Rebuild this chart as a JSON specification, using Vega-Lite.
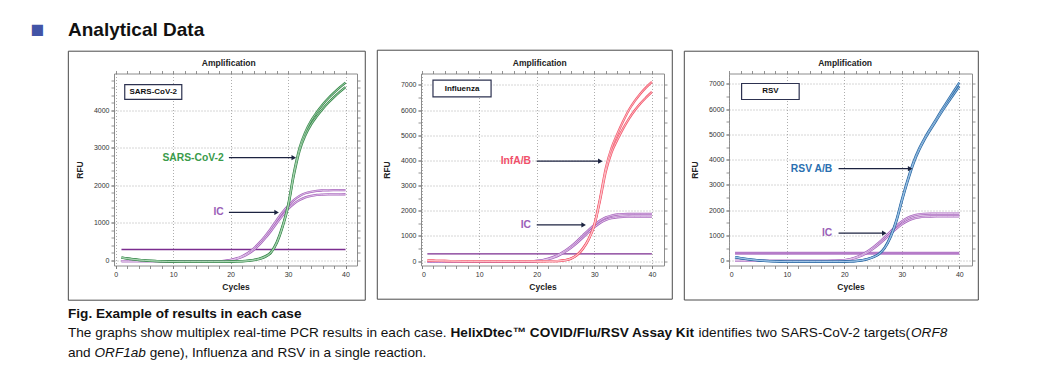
{
  "$schema": "https://vega.github.io/schema/vega-lite/v6.json",
  "background": "white",
  "padding": {"left": 30, "top": 20.5, "right": 10, "bottom": 5},
  "title": {"text": "■", "anchor": "start", "frame": "bounds", "orient": "top", "dx": -36.5, "offset": -17, "font": "DejaVu Sans", "fontSize": 14.5, "fontWeight": "normal", "color": "#4254a6"},
  "config": {
    "font": "Liberation Sans",
    "view": {"stroke": null},
    "axis": {"labelFontSize": 7, "labelColor": "#333", "tickColor": "#777", "tickSize": 3, "tickWidth": 0.8, "domain": false, "gridColor": "#999", "gridDash": [1, 2], "gridWidth": 0.8, "titleFontSize": 8.5, "titleFontWeight": "bold", "titleColor": "#222", "labelPadding": 2, "format": "d"},
    "axisX": {"titlePadding": 5},
    "axisY": {"titlePadding": 9}
  },
  "datasets": {
    "header": [
      {"pos": -46, "text": "Analytical Data"}
    ],
    "caption": [
      {"line": 1, "style": "bold", "pos": -46, "text": "Fig. Example of results in each case"},
      {"line": 2, "style": "normal", "pos": -46, "text": "The graphs show multiplex real-time PCR results in each case."},
      {"line": 2, "style": "bold", "pos": 336.5, "text": "HelixDtec™ COVID/Flu/RSV Assay Kit"},
      {"line": 2, "style": "normal", "pos": 584.5, "text": "identifies two SARS-CoV-2 targets("},
      {"line": 2, "style": "italic", "pos": 797, "text": "ORF8"},
      {"line": 3, "style": "normal", "pos": -46, "text": "and"},
      {"line": 3, "style": "italic", "pos": -19.5, "text": "ORF1ab"},
      {"line": 3, "style": "normal", "pos": 35.7, "text": "gene), Influenza and RSV in a single reaction."}
    ],
    "m1": [
      {"kind": "frame", "cycle": -8.25, "cycle2": 43.44, "rfu": 5574, "rfu2": -1057},
      {"kind": "title", "cycle": 19.68, "rfu": 5254, "text": "Amplification"},
      {"kind": "threshold", "cycle": 1, "cycle2": 40, "rfu": 293},
      {"kind": "box", "cycle": 1.57, "cycle2": 11.5, "rfu": 4293, "rfu2": 4685},
      {"kind": "boxlabel", "cycle": 6.53, "rfu": 4489, "text": "SARS-CoV-2"},
      {"kind": "annot", "role": "target", "cycle": 18.8, "rfu": 2739, "text": "SARS-CoV-2"},
      {"kind": "annot", "role": "ic", "cycle": 18.8, "rfu": 1280, "text": "IC"},
      {"kind": "arrow", "cycle": 19.7, "cycle2": 31.0, "rfu": 2739},
      {"kind": "arrow", "cycle": 19.7, "cycle2": 28.0, "rfu": 1280},
      {"kind": "head", "cycle": 31.0, "rfu": 2739},
      {"kind": "head", "cycle": 28.0, "rfu": 1280}
    ],
    "m2": [
      {"kind": "frame", "cycle": -7.69, "cycle2": 43.54, "rfu": 8375, "rfu2": -1513},
      {"kind": "title", "cycle": 20.53, "rfu": 7859, "text": "Amplification"},
      {"kind": "threshold", "cycle": 1, "cycle2": 40, "rfu": 290},
      {"kind": "box", "cycle": 1.98, "cycle2": 12.07, "rfu": 6520, "rfu2": 7186},
      {"kind": "boxlabel", "cycle": 7.03, "rfu": 6853, "text": "Influenza"},
      {"kind": "annot", "role": "target", "cycle": 19.0, "rfu": 3970, "text": "InfA/B"},
      {"kind": "annot", "role": "ic", "cycle": 19.0, "rfu": 1435, "text": "IC"},
      {"kind": "arrow", "cycle": 20.0, "cycle2": 31.05, "rfu": 3970},
      {"kind": "arrow", "cycle": 20.0, "cycle2": 28.15, "rfu": 1435},
      {"kind": "head", "cycle": 31.05, "rfu": 3970},
      {"kind": "head", "cycle": 28.15, "rfu": 1435}
    ],
    "m3": [
      {"kind": "frame", "cycle": -7.82, "cycle2": 43.3, "rfu": 8292, "rfu2": -1551},
      {"kind": "title", "cycle": 20.14, "rfu": 7817, "text": "Amplification"},
      {"kind": "threshold", "cycle": 1, "cycle2": 40, "rfu": 300},
      {"kind": "box", "cycle": 2.14, "cycle2": 12.15, "rfu": 6381, "rfu2": 7015},
      {"kind": "boxlabel", "cycle": 7.15, "rfu": 6698, "text": "RSV"},
      {"kind": "annot", "role": "target", "cycle": 17.9, "rfu": 3646, "text": "RSV A/B"},
      {"kind": "annot", "role": "ic", "cycle": 17.9, "rfu": 1094, "text": "IC"},
      {"kind": "arrow", "cycle": 19.0, "cycle2": 31.45, "rfu": 3646},
      {"kind": "arrow", "cycle": 19.0, "cycle2": 26.95, "rfu": 1094},
      {"kind": "head", "cycle": 31.45, "rfu": 3646},
      {"kind": "head", "cycle": 26.95, "rfu": 1094}
    ],
    "c1": [
      {"cycle": 1, "t1": 80, "t2": 75, "ic1": -15, "ic2": -18},
      {"cycle": 2, "t1": 55, "t2": 50, "ic1": -15, "ic2": -18},
      {"cycle": 3, "t1": 35, "t2": 30, "ic1": -15, "ic2": -18},
      {"cycle": 4, "t1": 18, "t2": 14, "ic1": -15, "ic2": -18},
      {"cycle": 5, "t1": 5, "t2": 2, "ic1": -15, "ic2": -18},
      {"cycle": 6, "t1": -5, "t2": -8, "ic1": -15, "ic2": -18},
      {"cycle": 7, "t1": -13, "t2": -16, "ic1": -15, "ic2": -18},
      {"cycle": 8, "t1": -20, "t2": -22, "ic1": -15, "ic2": -18},
      {"cycle": 9, "t1": -24, "t2": -26, "ic1": -15, "ic2": -18},
      {"cycle": 10, "t1": -27, "t2": -28, "ic1": -15, "ic2": -18},
      {"cycle": 11, "t1": -29, "t2": -29, "ic1": -15, "ic2": -18},
      {"cycle": 12, "t1": -30, "t2": -30, "ic1": -15, "ic2": -18},
      {"cycle": 13, "t1": -30, "t2": -30, "ic1": -15, "ic2": -18},
      {"cycle": 14, "t1": -30, "t2": -30, "ic1": -15, "ic2": -18},
      {"cycle": 15, "t1": -30, "t2": -30, "ic1": -15, "ic2": -18},
      {"cycle": 16, "t1": -30, "t2": -30, "ic1": -15, "ic2": -18},
      {"cycle": 17, "t1": -30, "t2": -30, "ic1": -15, "ic2": -18},
      {"cycle": 18, "t1": -30, "t2": -30, "ic1": -15, "ic2": -18},
      {"cycle": 19, "t1": -29, "t2": -29, "ic1": -8, "ic2": -12},
      {"cycle": 20, "t1": -27, "t2": -28, "ic1": 15, "ic2": 8},
      {"cycle": 21, "t1": -24, "t2": -25, "ic1": 55, "ic2": 42},
      {"cycle": 22, "t1": -18, "t2": -20, "ic1": 115, "ic2": 95},
      {"cycle": 23, "t1": -6, "t2": -10, "ic1": 200, "ic2": 170},
      {"cycle": 24, "t1": 15, "t2": 8, "ic1": 320, "ic2": 280},
      {"cycle": 25, "t1": 50, "t2": 40, "ic1": 470, "ic2": 420},
      {"cycle": 26, "t1": 110, "t2": 95, "ic1": 650, "ic2": 590},
      {"cycle": 27, "t1": 220, "t2": 200, "ic1": 850, "ic2": 780},
      {"cycle": 28, "t1": 480, "t2": 450, "ic1": 1070, "ic2": 990},
      {"cycle": 29, "t1": 900, "t2": 870, "ic1": 1280, "ic2": 1190},
      {"cycle": 30, "t1": 1470, "t2": 1430, "ic1": 1460, "ic2": 1370},
      {"cycle": 31, "t1": 2330, "t2": 2260, "ic1": 1610, "ic2": 1510},
      {"cycle": 32, "t1": 3000, "t2": 2920, "ic1": 1720, "ic2": 1610},
      {"cycle": 33, "t1": 3420, "t2": 3330, "ic1": 1790, "ic2": 1680},
      {"cycle": 34, "t1": 3720, "t2": 3620, "ic1": 1830, "ic2": 1720},
      {"cycle": 35, "t1": 3950, "t2": 3840, "ic1": 1855, "ic2": 1745},
      {"cycle": 36, "t1": 4150, "t2": 4030, "ic1": 1865, "ic2": 1755},
      {"cycle": 37, "t1": 4320, "t2": 4200, "ic1": 1870, "ic2": 1760},
      {"cycle": 38, "t1": 4470, "t2": 4350, "ic1": 1872, "ic2": 1762},
      {"cycle": 39, "t1": 4610, "t2": 4490, "ic1": 1873, "ic2": 1763},
      {"cycle": 40, "t1": 4740, "t2": 4620, "ic1": 1874, "ic2": 1764}
    ],
    "c2": [
      {"cycle": 1, "t1": 20, "t2": 18, "ic1": -10, "ic2": -12},
      {"cycle": 2, "t1": 15, "t2": 13, "ic1": -10, "ic2": -12},
      {"cycle": 3, "t1": 10, "t2": 8, "ic1": -10, "ic2": -12},
      {"cycle": 4, "t1": 5, "t2": 4, "ic1": -10, "ic2": -12},
      {"cycle": 5, "t1": 2, "t2": 1, "ic1": -10, "ic2": -12},
      {"cycle": 6, "t1": 0, "t2": -1, "ic1": -10, "ic2": -12},
      {"cycle": 7, "t1": -5, "t2": -6, "ic1": -10, "ic2": -12},
      {"cycle": 8, "t1": -5, "t2": -6, "ic1": -10, "ic2": -12},
      {"cycle": 9, "t1": -5, "t2": -6, "ic1": -10, "ic2": -12},
      {"cycle": 10, "t1": -5, "t2": -6, "ic1": -10, "ic2": -12},
      {"cycle": 11, "t1": -5, "t2": -6, "ic1": -10, "ic2": -12},
      {"cycle": 12, "t1": -5, "t2": -6, "ic1": -10, "ic2": -12},
      {"cycle": 13, "t1": -5, "t2": -6, "ic1": -10, "ic2": -12},
      {"cycle": 14, "t1": -5, "t2": -6, "ic1": -10, "ic2": -12},
      {"cycle": 15, "t1": -5, "t2": -6, "ic1": -10, "ic2": -12},
      {"cycle": 16, "t1": -5, "t2": -6, "ic1": -10, "ic2": -12},
      {"cycle": 17, "t1": -5, "t2": -6, "ic1": -10, "ic2": -12},
      {"cycle": 18, "t1": -5, "t2": -6, "ic1": -10, "ic2": -12},
      {"cycle": 19, "t1": -5, "t2": -6, "ic1": -5, "ic2": -8},
      {"cycle": 20, "t1": -5, "t2": -6, "ic1": 10, "ic2": 4},
      {"cycle": 21, "t1": -5, "t2": -6, "ic1": 40, "ic2": 28},
      {"cycle": 22, "t1": -4, "t2": -5, "ic1": 95, "ic2": 75},
      {"cycle": 23, "t1": 0, "t2": -2, "ic1": 175, "ic2": 145},
      {"cycle": 24, "t1": 12, "t2": 9, "ic1": 285, "ic2": 245},
      {"cycle": 25, "t1": 40, "t2": 35, "ic1": 425, "ic2": 375},
      {"cycle": 26, "t1": 110, "t2": 100, "ic1": 595, "ic2": 535},
      {"cycle": 27, "t1": 250, "t2": 235, "ic1": 795, "ic2": 725},
      {"cycle": 28, "t1": 500, "t2": 480, "ic1": 1015, "ic2": 935},
      {"cycle": 29, "t1": 880, "t2": 850, "ic1": 1235, "ic2": 1145},
      {"cycle": 30, "t1": 1450, "t2": 1420, "ic1": 1440, "ic2": 1345},
      {"cycle": 31, "t1": 2500, "t2": 2420, "ic1": 1610, "ic2": 1515},
      {"cycle": 32, "t1": 3700, "t2": 3560, "ic1": 1735, "ic2": 1635},
      {"cycle": 33, "t1": 4500, "t2": 4320, "ic1": 1810, "ic2": 1705},
      {"cycle": 34, "t1": 5050, "t2": 4820, "ic1": 1850, "ic2": 1740},
      {"cycle": 35, "t1": 5550, "t2": 5260, "ic1": 1865, "ic2": 1757},
      {"cycle": 36, "t1": 6000, "t2": 5650, "ic1": 1870, "ic2": 1763},
      {"cycle": 37, "t1": 6350, "t2": 5980, "ic1": 1872, "ic2": 1765},
      {"cycle": 38, "t1": 6650, "t2": 6260, "ic1": 1872, "ic2": 1765},
      {"cycle": 39, "t1": 6900, "t2": 6500, "ic1": 1872, "ic2": 1765},
      {"cycle": 40, "t1": 7120, "t2": 6720, "ic1": 1872, "ic2": 1765}
    ],
    "c3": [
      {"cycle": 1, "t1": 150, "t2": 140, "ic1": 0, "ic2": -3},
      {"cycle": 2, "t1": 110, "t2": 100, "ic1": 0, "ic2": -3},
      {"cycle": 3, "t1": 75, "t2": 68, "ic1": 0, "ic2": -3},
      {"cycle": 4, "t1": 45, "t2": 40, "ic1": 0, "ic2": -3},
      {"cycle": 5, "t1": 20, "t2": 16, "ic1": 0, "ic2": -3},
      {"cycle": 6, "t1": 2, "t2": -1, "ic1": 0, "ic2": -3},
      {"cycle": 7, "t1": -12, "t2": -14, "ic1": 0, "ic2": -3},
      {"cycle": 8, "t1": -22, "t2": -24, "ic1": 0, "ic2": -3},
      {"cycle": 9, "t1": -28, "t2": -29, "ic1": 0, "ic2": -3},
      {"cycle": 10, "t1": -30, "t2": -31, "ic1": 0, "ic2": -3},
      {"cycle": 11, "t1": -30, "t2": -31, "ic1": 0, "ic2": -3},
      {"cycle": 12, "t1": -30, "t2": -31, "ic1": 0, "ic2": -3},
      {"cycle": 13, "t1": -30, "t2": -31, "ic1": 0, "ic2": -3},
      {"cycle": 14, "t1": -30, "t2": -31, "ic1": 0, "ic2": -3},
      {"cycle": 15, "t1": -30, "t2": -31, "ic1": 0, "ic2": -3},
      {"cycle": 16, "t1": -30, "t2": -31, "ic1": 0, "ic2": -3},
      {"cycle": 17, "t1": -30, "t2": -31, "ic1": 0, "ic2": -3},
      {"cycle": 18, "t1": -30, "t2": -31, "ic1": 3, "ic2": 0},
      {"cycle": 19, "t1": -30, "t2": -31, "ic1": 10, "ic2": 5},
      {"cycle": 20, "t1": -28, "t2": -29, "ic1": 30, "ic2": 20},
      {"cycle": 21, "t1": -22, "t2": -24, "ic1": 70, "ic2": 55},
      {"cycle": 22, "t1": -8, "t2": -11, "ic1": 140, "ic2": 115},
      {"cycle": 23, "t1": 20, "t2": 15, "ic1": 240, "ic2": 200},
      {"cycle": 24, "t1": 70, "t2": 62, "ic1": 370, "ic2": 320},
      {"cycle": 25, "t1": 150, "t2": 138, "ic1": 530, "ic2": 470},
      {"cycle": 26, "t1": 270, "t2": 255, "ic1": 720, "ic2": 650},
      {"cycle": 27, "t1": 520, "t2": 490, "ic1": 930, "ic2": 850},
      {"cycle": 28, "t1": 950, "t2": 910, "ic1": 1150, "ic2": 1060},
      {"cycle": 29, "t1": 1580, "t2": 1520, "ic1": 1370, "ic2": 1260},
      {"cycle": 30, "t1": 2420, "t2": 2350, "ic1": 1560, "ic2": 1440},
      {"cycle": 31, "t1": 3200, "t2": 3130, "ic1": 1700, "ic2": 1580},
      {"cycle": 32, "t1": 3900, "t2": 3830, "ic1": 1790, "ic2": 1670},
      {"cycle": 33, "t1": 4440, "t2": 4370, "ic1": 1840, "ic2": 1720},
      {"cycle": 34, "t1": 4870, "t2": 4810, "ic1": 1860, "ic2": 1745},
      {"cycle": 35, "t1": 5250, "t2": 5190, "ic1": 1868, "ic2": 1753},
      {"cycle": 36, "t1": 5620, "t2": 5550, "ic1": 1870, "ic2": 1755},
      {"cycle": 37, "t1": 5990, "t2": 5910, "ic1": 1870, "ic2": 1755},
      {"cycle": 38, "t1": 6350, "t2": 6250, "ic1": 1870, "ic2": 1755},
      {"cycle": 39, "t1": 6700, "t2": 6580, "ic1": 1870, "ic2": 1755},
      {"cycle": 40, "t1": 7050, "t2": 6900, "ic1": 1870, "ic2": 1755}
    ]
  },
  "spacing": 8,
  "vconcat": [
    {
      "width": 880, "height": 19,
      "data": {"name": "header"},
      "mark": {"type": "text", "align": "left", "baseline": "middle", "fontSize": 19, "fontWeight": "bold", "color": "#111"},
      "encoding": {"x": {"field": "pos", "type": "quantitative", "scale": {"domain": [0, 880], "nice": false, "zero": false}, "axis": null}, "text": {"field": "text"}}
    },
    {
      "spacing": 5,
      "vconcat": [
        {
          "spacing": 9,
          "hconcat": [
            {
              "width": 243, "height": 192,
              "view": {"stroke": "#8c8c8c", "strokeWidth": 1, "fill": "white"},
              "resolve": {"axis": {"x": "independent", "y": "independent"}},
              "encoding": {
                "x": {"field": "cycle", "type": "quantitative", "scale": {"domain": [-0.3, 42], "nice": false, "zero": false}, "axis": null},
                "y": {"field": "rfu", "type": "quantitative", "scale": {"domain": [-133, 4980], "nice": false, "zero": false}, "axis": null}
              },
              "layer": [
                {"data": {"name": "m1"}, "transform": [{"filter": "datum.kind === 'threshold'"}], "mark": {"type": "point", "opacity": 0},
                 "encoding": {"x": {"field": "cycle", "type": "quantitative", "axis": {"orient": "bottom", "values": [0, 10, 20, 30, 40], "title": "Cycles", "grid": true}},
                              "y": {"field": "rfu", "type": "quantitative", "axis": {"orient": "left", "values": [0, 1000, 2000, 3000, 4000], "title": "RFU", "grid": true}}}},
                {"data": {"name": "m1"}, "transform": [{"filter": "datum.kind === 'threshold'"}], "mark": {"type": "point", "opacity": 0},
                 "encoding": {"x": {"field": "cycle", "type": "quantitative", "axis": {"orient": "bottom", "values": [0, 2, 4, 6, 8, 10, 12, 14, 16, 18, 20, 22, 24, 26, 28, 30, 32, 34, 36, 38, 40], "labels": false, "title": null, "grid": false}},
                              "y": {"field": "rfu", "type": "quantitative", "axis": {"orient": "left", "values": [0, 200, 400, 600, 800, 1000, 1200, 1400, 1600, 1800, 2000, 2200, 2400, 2600, 2800, 3000, 3200, 3400, 3600, 3800, 4000, 4200, 4400, 4600, 4800], "labels": false, "title": null, "grid": false}}}},
                {"data": {"name": "m1"}, "transform": [{"filter": "datum.kind === 'threshold'"}], "mark": {"type": "point", "opacity": 0},
                 "encoding": {"x": {"field": "cycle", "type": "quantitative", "axis": {"orient": "top", "values": [0, 2, 4, 6, 8, 10, 12, 14, 16, 18, 20, 22, 24, 26, 28, 30, 32, 34, 36, 38, 40], "labels": false, "title": null, "grid": false}},
                              "y": {"field": "rfu", "type": "quantitative", "axis": {"orient": "right", "values": [0, 200, 400, 600, 800, 1000, 1200, 1400, 1600, 1800, 2000, 2200, 2400, 2600, 2800, 3000, 3200, 3400, 3600, 3800, 4000, 4200, 4400, 4600, 4800], "labels": false, "title": null, "grid": false}}}},
                {"data": {"name": "m1"}, "transform": [{"filter": "datum.kind === 'frame'"}], "mark": {"type": "rect", "filled": false, "stroke": "#4a4a4a", "strokeWidth": 1, "clip": false}, "encoding": {"x2": {"field": "cycle2"}, "y2": {"field": "rfu2"}}},
                {"data": {"name": "m1"}, "transform": [{"filter": "datum.kind === 'title'"}], "mark": {"type": "text", "fontSize": 8.5, "fontWeight": "bold", "color": "#222", "baseline": "middle", "clip": false}, "encoding": {"text": {"field": "text"}}},
                {"data": {"name": "m1"}, "transform": [{"filter": "datum.kind === 'threshold'"}], "mark": {"type": "rule", "color": "#7b2d8f", "strokeWidth": 1.3}, "encoding": {"x2": {"field": "cycle2"}}},
                {"data": {"name": "c1"}, "transform": [{"fold": ["ic1", "ic2"], "as": ["series", "rfu"]}], "mark": {"type": "line", "interpolate": "monotone", "color": "#a865bd", "strokeWidth": 2.3}, "encoding": {"detail": {"field": "series"}}},
                {"data": {"name": "c1"}, "transform": [{"fold": ["ic1", "ic2"], "as": ["series", "rfu"]}], "mark": {"type": "line", "interpolate": "monotone", "color": "#ead6f0", "strokeWidth": 0.8}, "encoding": {"detail": {"field": "series"}}},
                {"data": {"name": "c1"}, "transform": [{"fold": ["t1", "t2"], "as": ["series", "rfu"]}], "mark": {"type": "line", "interpolate": "monotone", "color": "#3b8a4e", "strokeWidth": 2.3}, "encoding": {"detail": {"field": "series"}}},
                {"data": {"name": "c1"}, "transform": [{"fold": ["t1", "t2"], "as": ["series", "rfu"]}], "mark": {"type": "line", "interpolate": "monotone", "color": "#b5ddbc", "strokeWidth": 0.8}, "encoding": {"detail": {"field": "series"}}},
                {"data": {"name": "m1"}, "transform": [{"filter": "datum.kind === 'box'"}], "mark": {"type": "rect", "fill": "white", "stroke": "#2d3250", "strokeWidth": 1.2}, "encoding": {"x2": {"field": "cycle2"}, "y2": {"field": "rfu2"}}},
                {"data": {"name": "m1"}, "transform": [{"filter": "datum.kind === 'boxlabel'"}], "mark": {"type": "text", "fontSize": 8, "fontWeight": "bold", "color": "#111", "baseline": "middle"}, "encoding": {"text": {"field": "text"}}},
                {"data": {"name": "m1"}, "transform": [{"filter": "datum.kind === 'annot'"}], "mark": {"type": "text", "fontSize": 10.3, "fontWeight": "bold", "align": "right", "baseline": "middle"}, "encoding": {"text": {"field": "text"}, "color": {"condition": {"test": "datum.role === 'ic'", "value": "#9b5fb8"}, "value": "#3a9b4b"}}},
                {"data": {"name": "m1"}, "transform": [{"filter": "datum.kind === 'arrow'"}], "mark": {"type": "rule", "color": "#1c2340", "strokeWidth": 1.3}, "encoding": {"x2": {"field": "cycle2"}}},
                {"data": {"name": "m1"}, "transform": [{"filter": "datum.kind === 'head'"}], "mark": {"type": "point", "shape": "triangle-right", "filled": true, "size": 28, "color": "#1c2340", "opacity": 1}}
              ]
            },
            {
              "width": 243, "height": 192,
              "view": {"stroke": "#8c8c8c", "strokeWidth": 1, "fill": "white"},
              "resolve": {"axis": {"x": "independent", "y": "independent"}},
              "encoding": {
                "x": {"field": "cycle", "type": "quantitative", "scale": {"domain": [-0.1, 42.1], "nice": false, "zero": false}, "axis": null},
                "y": {"field": "rfu", "type": "quantitative", "scale": {"domain": [-175, 7450], "nice": false, "zero": false}, "axis": null}
              },
              "layer": [
                {"data": {"name": "m2"}, "transform": [{"filter": "datum.kind === 'threshold'"}], "mark": {"type": "point", "opacity": 0},
                 "encoding": {"x": {"field": "cycle", "type": "quantitative", "axis": {"orient": "bottom", "values": [0, 10, 20, 30, 40], "title": "Cycles", "grid": true}},
                              "y": {"field": "rfu", "type": "quantitative", "axis": {"orient": "left", "values": [0, 1000, 2000, 3000, 4000, 5000, 6000, 7000], "title": "RFU", "grid": true}}}},
                {"data": {"name": "m2"}, "transform": [{"filter": "datum.kind === 'threshold'"}], "mark": {"type": "point", "opacity": 0},
                 "encoding": {"x": {"field": "cycle", "type": "quantitative", "axis": {"orient": "bottom", "values": [0, 2, 4, 6, 8, 10, 12, 14, 16, 18, 20, 22, 24, 26, 28, 30, 32, 34, 36, 38, 40], "labels": false, "title": null, "grid": false}},
                              "y": {"field": "rfu", "type": "quantitative", "axis": {"orient": "left", "values": [0, 500, 1000, 1500, 2000, 2500, 3000, 3500, 4000, 4500, 5000, 5500, 6000, 6500, 7000], "labels": false, "title": null, "grid": false}}}},
                {"data": {"name": "m2"}, "transform": [{"filter": "datum.kind === 'threshold'"}], "mark": {"type": "point", "opacity": 0},
                 "encoding": {"x": {"field": "cycle", "type": "quantitative", "axis": {"orient": "top", "values": [0, 2, 4, 6, 8, 10, 12, 14, 16, 18, 20, 22, 24, 26, 28, 30, 32, 34, 36, 38, 40], "labels": false, "title": null, "grid": false}},
                              "y": {"field": "rfu", "type": "quantitative", "axis": {"orient": "right", "values": [0, 500, 1000, 1500, 2000, 2500, 3000, 3500, 4000, 4500, 5000, 5500, 6000, 6500, 7000], "labels": false, "title": null, "grid": false}}}},
                {"data": {"name": "m2"}, "transform": [{"filter": "datum.kind === 'frame'"}], "mark": {"type": "rect", "filled": false, "stroke": "#4a4a4a", "strokeWidth": 1, "clip": false}, "encoding": {"x2": {"field": "cycle2"}, "y2": {"field": "rfu2"}}},
                {"data": {"name": "m2"}, "transform": [{"filter": "datum.kind === 'title'"}], "mark": {"type": "text", "fontSize": 8.5, "fontWeight": "bold", "color": "#222", "baseline": "middle", "clip": false}, "encoding": {"text": {"field": "text"}}},
                {"data": {"name": "m2"}, "transform": [{"filter": "datum.kind === 'threshold'"}], "mark": {"type": "rule", "color": "#7b2d8f", "strokeWidth": 1.3}, "encoding": {"x2": {"field": "cycle2"}}},
                {"data": {"name": "c2"}, "transform": [{"fold": ["ic1", "ic2"], "as": ["series", "rfu"]}], "mark": {"type": "line", "interpolate": "monotone", "color": "#a865bd", "strokeWidth": 2.3}, "encoding": {"detail": {"field": "series"}}},
                {"data": {"name": "c2"}, "transform": [{"fold": ["ic1", "ic2"], "as": ["series", "rfu"]}], "mark": {"type": "line", "interpolate": "monotone", "color": "#ead6f0", "strokeWidth": 0.8}, "encoding": {"detail": {"field": "series"}}},
                {"data": {"name": "c2"}, "transform": [{"fold": ["t1", "t2"], "as": ["series", "rfu"]}], "mark": {"type": "line", "interpolate": "monotone", "color": "#f25a6e", "strokeWidth": 2.3}, "encoding": {"detail": {"field": "series"}}},
                {"data": {"name": "c2"}, "transform": [{"fold": ["t1", "t2"], "as": ["series", "rfu"]}], "mark": {"type": "line", "interpolate": "monotone", "color": "#ffd0d6", "strokeWidth": 0.8}, "encoding": {"detail": {"field": "series"}}},
                {"data": {"name": "m2"}, "transform": [{"filter": "datum.kind === 'box'"}], "mark": {"type": "rect", "fill": "white", "stroke": "#2d3250", "strokeWidth": 1.2}, "encoding": {"x2": {"field": "cycle2"}, "y2": {"field": "rfu2"}}},
                {"data": {"name": "m2"}, "transform": [{"filter": "datum.kind === 'boxlabel'"}], "mark": {"type": "text", "fontSize": 8, "fontWeight": "bold", "color": "#111", "baseline": "middle"}, "encoding": {"text": {"field": "text"}}},
                {"data": {"name": "m2"}, "transform": [{"filter": "datum.kind === 'annot'"}], "mark": {"type": "text", "fontSize": 10.3, "fontWeight": "bold", "align": "right", "baseline": "middle"}, "encoding": {"text": {"field": "text"}, "color": {"condition": {"test": "datum.role === 'ic'", "value": "#9b5fb8"}, "value": "#f0506a"}}},
                {"data": {"name": "m2"}, "transform": [{"filter": "datum.kind === 'arrow'"}], "mark": {"type": "rule", "color": "#1c2340", "strokeWidth": 1.3}, "encoding": {"x2": {"field": "cycle2"}}},
                {"data": {"name": "m2"}, "transform": [{"filter": "datum.kind === 'head'"}], "mark": {"type": "point", "shape": "triangle-right", "filled": true, "size": 28, "color": "#1c2340", "opacity": 1}}
              ]
            },
            {
              "width": 243, "height": 192,
              "view": {"stroke": "#8c8c8c", "strokeWidth": 1, "fill": "white"},
              "resolve": {"axis": {"x": "independent", "y": "independent"}},
              "encoding": {
                "x": {"field": "cycle", "type": "quantitative", "scale": {"domain": [-0.05, 42.2], "nice": false, "zero": false}, "axis": null},
                "y": {"field": "rfu", "type": "quantitative", "scale": {"domain": [-186, 7410], "nice": false, "zero": false}, "axis": null}
              },
              "layer": [
                {"data": {"name": "m3"}, "transform": [{"filter": "datum.kind === 'threshold'"}], "mark": {"type": "point", "opacity": 0},
                 "encoding": {"x": {"field": "cycle", "type": "quantitative", "axis": {"orient": "bottom", "values": [0, 10, 20, 30, 40], "title": "Cycles", "grid": true}},
                              "y": {"field": "rfu", "type": "quantitative", "axis": {"orient": "left", "values": [0, 1000, 2000, 3000, 4000, 5000, 6000, 7000], "title": "RFU", "grid": true}}}},
                {"data": {"name": "m3"}, "transform": [{"filter": "datum.kind === 'threshold'"}], "mark": {"type": "point", "opacity": 0},
                 "encoding": {"x": {"field": "cycle", "type": "quantitative", "axis": {"orient": "bottom", "values": [0, 2, 4, 6, 8, 10, 12, 14, 16, 18, 20, 22, 24, 26, 28, 30, 32, 34, 36, 38, 40], "labels": false, "title": null, "grid": false}},
                              "y": {"field": "rfu", "type": "quantitative", "axis": {"orient": "left", "values": [0, 500, 1000, 1500, 2000, 2500, 3000, 3500, 4000, 4500, 5000, 5500, 6000, 6500, 7000], "labels": false, "title": null, "grid": false}}}},
                {"data": {"name": "m3"}, "transform": [{"filter": "datum.kind === 'threshold'"}], "mark": {"type": "point", "opacity": 0},
                 "encoding": {"x": {"field": "cycle", "type": "quantitative", "axis": {"orient": "top", "values": [0, 2, 4, 6, 8, 10, 12, 14, 16, 18, 20, 22, 24, 26, 28, 30, 32, 34, 36, 38, 40], "labels": false, "title": null, "grid": false}},
                              "y": {"field": "rfu", "type": "quantitative", "axis": {"orient": "right", "values": [0, 500, 1000, 1500, 2000, 2500, 3000, 3500, 4000, 4500, 5000, 5500, 6000, 6500, 7000], "labels": false, "title": null, "grid": false}}}},
                {"data": {"name": "m3"}, "transform": [{"filter": "datum.kind === 'frame'"}], "mark": {"type": "rect", "filled": false, "stroke": "#4a4a4a", "strokeWidth": 1, "clip": false}, "encoding": {"x2": {"field": "cycle2"}, "y2": {"field": "rfu2"}}},
                {"data": {"name": "m3"}, "transform": [{"filter": "datum.kind === 'title'"}], "mark": {"type": "text", "fontSize": 8.5, "fontWeight": "bold", "color": "#222", "baseline": "middle", "clip": false}, "encoding": {"text": {"field": "text"}}},
                {"data": {"name": "m3"}, "transform": [{"filter": "datum.kind === 'threshold'"}], "mark": {"type": "rule", "color": "#b57bc8", "strokeWidth": 3}, "encoding": {"x2": {"field": "cycle2"}}},
                {"data": {"name": "c3"}, "transform": [{"fold": ["ic1", "ic2"], "as": ["series", "rfu"]}], "mark": {"type": "line", "interpolate": "monotone", "color": "#a865bd", "strokeWidth": 2.3}, "encoding": {"detail": {"field": "series"}}},
                {"data": {"name": "c3"}, "transform": [{"fold": ["ic1", "ic2"], "as": ["series", "rfu"]}], "mark": {"type": "line", "interpolate": "monotone", "color": "#ead6f0", "strokeWidth": 0.8}, "encoding": {"detail": {"field": "series"}}},
                {"data": {"name": "c3"}, "transform": [{"fold": ["t1", "t2"], "as": ["series", "rfu"]}], "mark": {"type": "line", "interpolate": "monotone", "color": "#2c6aa5", "strokeWidth": 2.3}, "encoding": {"detail": {"field": "series"}}},
                {"data": {"name": "c3"}, "transform": [{"fold": ["t1", "t2"], "as": ["series", "rfu"]}], "mark": {"type": "line", "interpolate": "monotone", "color": "#a9cdec", "strokeWidth": 0.8}, "encoding": {"detail": {"field": "series"}}},
                {"data": {"name": "m3"}, "transform": [{"filter": "datum.kind === 'box'"}], "mark": {"type": "rect", "fill": "white", "stroke": "#2d3250", "strokeWidth": 1.2}, "encoding": {"x2": {"field": "cycle2"}, "y2": {"field": "rfu2"}}},
                {"data": {"name": "m3"}, "transform": [{"filter": "datum.kind === 'boxlabel'"}], "mark": {"type": "text", "fontSize": 8, "fontWeight": "bold", "color": "#111", "baseline": "middle"}, "encoding": {"text": {"field": "text"}}},
                {"data": {"name": "m3"}, "transform": [{"filter": "datum.kind === 'annot'"}], "mark": {"type": "text", "fontSize": 10.3, "fontWeight": "bold", "align": "right", "baseline": "middle"}, "encoding": {"text": {"field": "text"}, "color": {"condition": {"test": "datum.role === 'ic'", "value": "#9b5fb8"}, "value": "#2a6fb0"}}},
                {"data": {"name": "m3"}, "transform": [{"filter": "datum.kind === 'arrow'"}], "mark": {"type": "rule", "color": "#1c2340", "strokeWidth": 1.3}, "encoding": {"x2": {"field": "cycle2"}}},
                {"data": {"name": "m3"}, "transform": [{"filter": "datum.kind === 'head'"}], "mark": {"type": "point", "shape": "triangle-right", "filled": true, "size": 28, "color": "#1c2340", "opacity": 1}}
              ]
            }
          ]
        },
        {
          "width": 880, "height": 39,
          "data": {"name": "caption"},
          "encoding": {
            "x": {"field": "pos", "type": "quantitative", "scale": {"domain": [0, 880], "nice": false, "zero": false}, "axis": null},
            "y": {"field": "line", "type": "ordinal", "scale": {"type": "point", "padding": 0}, "axis": null},
            "text": {"field": "text"}
          },
          "layer": [
            {"transform": [{"filter": "datum.style === 'bold'"}], "mark": {"type": "text", "align": "left", "baseline": "top", "fontSize": 13.6, "fontWeight": "bold", "color": "#111"}},
            {"transform": [{"filter": "datum.style === 'normal'"}], "mark": {"type": "text", "align": "left", "baseline": "top", "fontSize": 13.6, "color": "#111"}},
            {"transform": [{"filter": "datum.style === 'italic'"}], "mark": {"type": "text", "align": "left", "baseline": "top", "fontSize": 13.6, "fontStyle": "italic", "color": "#111"}}
          ]
        }
      ]
    }
  ]
}
